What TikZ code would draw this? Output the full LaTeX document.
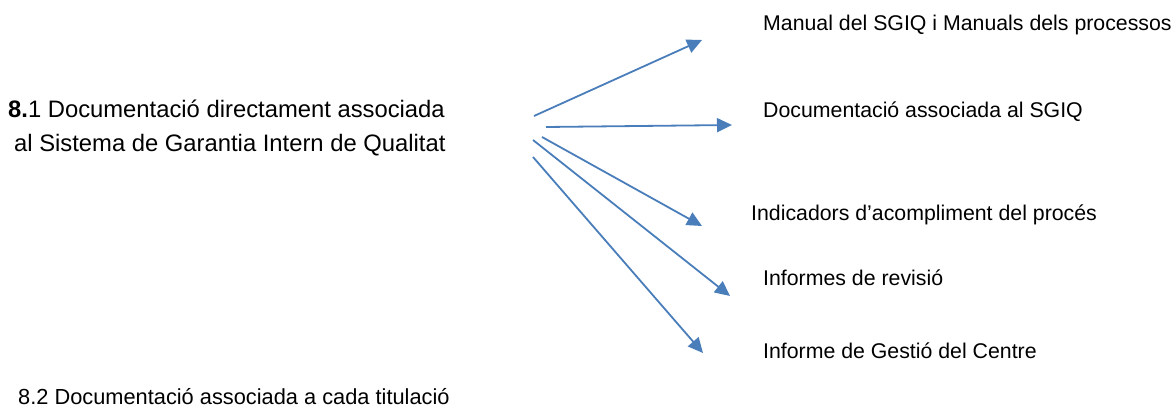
\documentclass[tikz,border=0pt]{standalone}
\usepackage{fontspec}
\setmainfont{Liberation Sans}
\usetikzlibrary{arrows.meta}
\definecolor{arrowblue}{RGB}{74,126,187}
\tikzset{
  doclabel/.style={anchor=base west,inner sep=0pt,font=\fontsize{21.3}{25}\selectfont},
  headlabel/.style={anchor=base west,inner sep=0pt,font=\fontsize{23.8}{28}\selectfont},
  footlabel/.style={anchor=base west,inner sep=0pt,font=\fontsize{21.8}{26}\selectfont},
  link/.style={draw=arrowblue,line width=1.8pt,-{Triangle[length=15pt,width=14pt]}}
}
\begin{document}
\begin{tikzpicture}[x=1pt,y=-1pt]
        \useasboundingbox (0,0) rectangle (1176,409);
        % left titles
        \node[headlabel] (sgiq) at (8,118) {\textbf{8.}1 Documentació directament associada};
        \node[headlabel] (sgiqb) at (14,151.5) {al Sistema de Garantia Intern de Qualitat};
        \node[footlabel] (titulacio) at (18,404) {8.2 Documentació associada a cada titulació};
        % documents
        \node[doclabel] (manual) at (763,31) {Manual del SGIQ i Manuals dels processos};
        \node[doclabel] (docsgiq) at (763,118) {Documentació associada al SGIQ};
        \node[doclabel] (indic) at (751,220) {Indicadors d’acompliment del procés};
        \node[doclabel] (revisio) at (763,285) {Informes de revisió};
        \node[doclabel] (gestio) at (763,358) {Informe de Gestió del Centre};
        % arrow ends
        \coordinate (s1) at (534,116);
        \coordinate (e1) at (702,40);
        \coordinate (s2) at (546,127);
        \coordinate (e2) at (732,125);
        \coordinate (s3) at (542,137);
        \coordinate (e3) at (702,226);
        \coordinate (s4) at (533,140);
        \coordinate (e4) at (730,296);
        \coordinate (s5) at (533,157);
        \coordinate (e5) at (703,353);
        % arrows
        \draw[link] (s1) -- (e1);
        \draw[link] (s2) -- (e2);
        \draw[link] (s3) -- (e3);
        \draw[link] (s4) -- (e4);
        \draw[link] (s5) -- (e5);
\end{tikzpicture}
\end{document}
